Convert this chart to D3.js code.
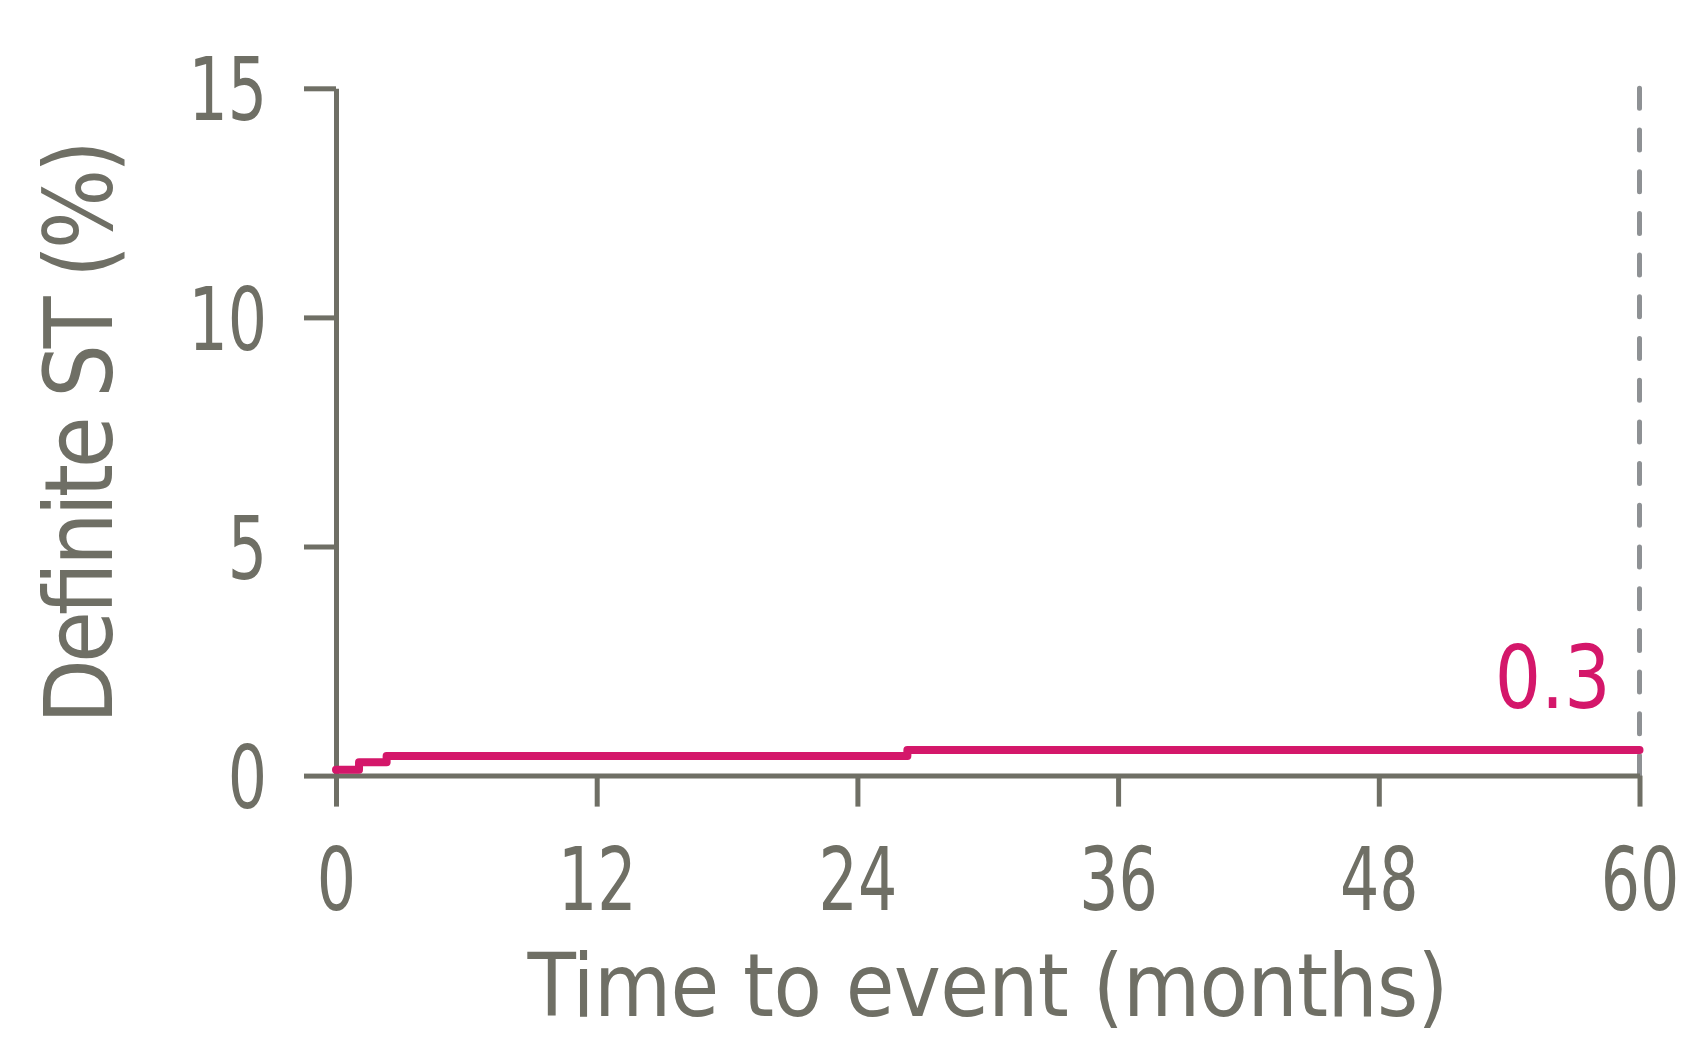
<!DOCTYPE html>
<html>
<head>
<meta charset="utf-8">
<script src="https://cdn.jsdelivr.net/npm/d3@7"></script>
<style>
  html, body { margin: 0; padding: 0; background: #ffffff; overflow: hidden; }
  svg { display: block; }
  text { font-family: "Liberation Sans Narrow", "DejaVu Sans Condensed", "Liberation Sans", sans-serif; }
</style>
</head>
<body>
<svg id="chart" width="1689" height="1042"></svg>
<script>
// ---- data ----
const stepMonths = [0, 1.06, 2.33, 26.3, 60];
const stepValues = [0.13, 0.29, 0.43, 0.56, 0.56];
const xTicks = [0, 12, 24, 36, 48, 60];
const yTicks = [0, 5, 10, 15];
const endLabel = "0.3";
const xTitle = "Time to event (months)";
const yTitle = "Definite ST (%)";
const landmarkMonth = 60;

// ---- layout ----
const plotLeft = 336, plotRight = 1639.5, plotTop = 88.3, plotBottom = 775.6;
const axisColor = "#6f6f65";
const pink = "#d4176a";
const dashColor = "#8e9194";
const sx = 0.78; // horizontal squeeze for digit labels

const svg = d3.select("#chart");
const x = d3.scaleLinear().domain([0, 60]).range([plotLeft, plotRight]);
const y = d3.scaleLinear().domain([0, 15]).range([plotBottom, plotTop]);

// dashed landmark line
svg.append("line")
  .attr("x1", x(landmarkMonth)).attr("x2", x(landmarkMonth))
  .attr("y1", y(15)).attr("y2", y(0))
  .attr("stroke", dashColor).attr("stroke-width", 5)
  .attr("stroke-linecap", "round")
  .attr("stroke-dasharray", "20,21.7");

// axes
const yAxis = d3.axisLeft(y).tickValues(yTicks).tickSize(32).tickSizeOuter(0).tickPadding(37)
  .tickFormat(d3.format("d"));
const gy = svg.append("g").attr("transform", `translate(${plotLeft},0)`).call(yAxis);

const xAxis = d3.axisBottom(x).tickValues(xTicks).tickSize(31).tickSizeOuter(0).tickPadding(10)
  .tickFormat(d3.format("d"));
const gx = svg.append("g").attr("transform", `translate(0,${plotBottom})`).call(xAxis);

[gx, gy].forEach(g => {
  g.selectAll("path.domain").attr("stroke", axisColor).attr("stroke-width", 5);
  g.selectAll(".tick line").attr("stroke", axisColor).attr("stroke-width", 5);
  g.selectAll(".tick text").attr("fill", axisColor).attr("font-size", 88)
    .style("font-family", '"Liberation Sans Narrow", "DejaVu Sans Condensed", sans-serif');
});
gy.selectAll(".tick text")
  .attr("x", -69 / sx).attr("dy", "0.36em")
  .attr("transform", `scale(${sx},1)`);
gx.selectAll(".tick text")
  .attr("y", 134).attr("dy", 0)
  .attr("transform", `scale(${sx},1)`);

// step line
const line = d3.line().x(d => x(d[0])).y(d => y(d[1])).curve(d3.curveStepAfter);
const pts = stepMonths.map((m, i) => [m, stepValues[i]]);
svg.append("path")
  .datum(pts)
  .attr("d", line)
  .attr("fill", "none")
  .attr("stroke", pink)
  .attr("stroke-width", 8)
  .attr("stroke-linejoin", "round")
  .attr("stroke-linecap", "round");

// end label
svg.append("text")
  .attr("transform", `translate(${x(60) - 29},708) scale(0.92,1)`)
  .attr("text-anchor", "end")
  .attr("fill", pink)
  .attr("font-size", 88)
  .text(endLabel);

// axis titles
svg.append("text")
  .attr("x", 988).attr("y", 1016)
  .attr("text-anchor", "middle")
  .attr("fill", axisColor)
  .attr("font-size", 88)
  .attr("textLength", 921).attr("lengthAdjust", "spacing")
  .text(xTitle);

svg.append("text")
  .attr("transform", `translate(112,432) rotate(-90)`)
  .attr("text-anchor", "middle")
  .attr("fill", axisColor)
  .attr("font-size", 94)
  .attr("textLength", 584).attr("lengthAdjust", "spacing")
  .text(yTitle);
</script>
</body>
</html>
